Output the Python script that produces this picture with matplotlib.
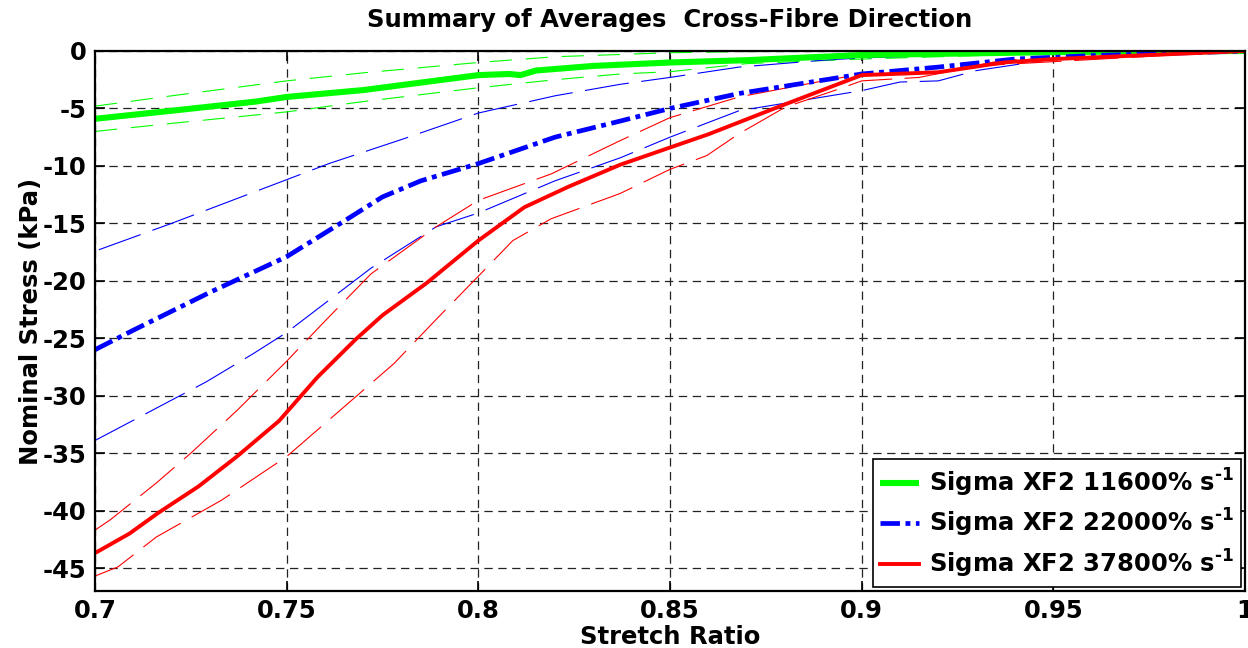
import matplotlib
matplotlib.use("Agg")
import matplotlib.pyplot as plt

plt.rcParams["font.family"] = ["DejaVu Sans"]
plt.rcParams["font.weight"] = "bold"
plt.rcParams["axes.unicode_minus"] = False
plt.rcParams["mathtext.fontset"] = "custom"
plt.rcParams["mathtext.rm"] = "DejaVu Sans:bold"
plt.rcParams["mathtext.bf"] = "DejaVu Sans:bold"
plt.rcParams["mathtext.it"] = "DejaVu Sans:bold"
plt.rcParams["lines.scale_dashes"] = False

# ---- data -------------------------------------------------------------
# Rate 11600 %/s
green_mean_x = [0.70, 0.72, 0.742, 0.75, 0.77, 0.80, 0.808, 0.811, 0.815, 0.83, 0.85, 0.87, 0.90, 0.93, 0.95, 0.97, 1.00]
green_mean_y = [-5.9, -5.2, -4.4, -4.0, -3.4, -2.1, -2.0, -2.1, -1.7, -1.3, -1.0, -0.8, -0.35, -0.2, -0.1, -0.05, 0.0]
green_hi_x = [0.70, 0.72, 0.75, 0.77, 0.80, 0.82, 0.85, 0.87, 0.90, 1.00]
green_hi_y = [-4.8, -3.9, -2.6, -1.9, -1.0, -0.5, -0.15, -0.05, 0.0, 0.0]
green_lo_x = [0.70, 0.72, 0.75, 0.77, 0.80, 0.82, 0.837, 0.85, 0.87, 0.90, 0.95, 1.00]
green_lo_y = [-7.0, -6.3, -5.3, -4.4, -3.2, -2.5, -2.0, -1.8, -1.1, -0.7, -0.2, 0.0]

# Rate 22000 %/s
blue_mean_x = [0.70, 0.71, 0.73, 0.75, 0.765, 0.775, 0.785, 0.80, 0.82, 0.837, 0.85, 0.868, 0.90, 0.92, 0.94, 0.96, 1.00]
blue_mean_y = [-26.0, -24.3, -21.0, -17.9, -14.8, -12.7, -11.3, -9.8, -7.5, -6.1, -5.0, -3.7, -2.0, -1.4, -0.7, -0.4, 0.0]
blue_hi_x = [0.701, 0.72, 0.75, 0.761, 0.78, 0.80, 0.82, 0.837, 0.85, 0.868, 0.89, 0.90, 0.94, 1.00]
blue_hi_y = [-17.3, -15.0, -11.2, -9.8, -7.7, -5.4, -3.9, -2.9, -2.3, -1.4, -0.8, -0.6, -0.2, 0.0]
blue_lo_x = [0.70, 0.729, 0.741, 0.75, 0.772, 0.789, 0.80, 0.82, 0.837, 0.85, 0.868, 0.90, 0.91, 0.92, 0.93, 0.95, 1.00]
blue_lo_y = [-33.9, -28.8, -26.4, -24.5, -18.9, -15.3, -14.1, -11.3, -9.3, -7.5, -5.2, -3.45, -2.7, -2.6, -1.7, -0.7, 0.0]

# Rate 37800 %/s
red_mean_x = [0.70, 0.709, 0.7165, 0.727, 0.737, 0.748, 0.758, 0.768, 0.775, 0.7865, 0.80, 0.812, 0.8236,
              0.837, 0.85, 0.86, 0.878, 0.90, 0.92, 0.937, 0.95, 1.00]
red_mean_y = [-43.7, -42.0, -40.2, -37.9, -35.3, -32.2, -28.4, -25.1, -23.0, -20.2, -16.5, -13.6, -11.8,
              -9.9, -8.4, -7.25, -4.9, -2.1, -1.85, -1.0, -0.7, 0.0]
red_hi_x = [0.70, 0.704, 0.716, 0.725, 0.737, 0.75, 0.76, 0.772, 0.789, 0.80, 0.819, 0.837, 0.85, 0.868,
            0.89, 0.90, 0.92, 0.937, 1.00]
red_hi_y = [-41.7, -40.8, -37.6, -35.0, -31.3, -27.0, -23.5, -19.4, -15.3, -13.0, -10.7, -7.8, -5.8, -4.0,
            -2.6, -2.0, -1.9, -0.8, 0.0]
red_lo_x = [0.70, 0.706, 0.716, 0.733, 0.75, 0.768, 0.778, 0.7886, 0.80, 0.809, 0.819, 0.837, 0.85, 0.8596,
            0.868, 0.88, 0.895, 0.90, 0.915, 0.93, 1.00]
red_lo_y = [-45.7, -44.9, -42.3, -39.1, -35.3, -30.1, -27.2, -23.5, -19.6, -16.5, -14.6, -12.4, -10.3, -9.1,
            -7.2, -4.9, -3.2, -2.6, -2.3, -1.3, 0.0]

legend_labels = [r"Sigma XF2 11600% s$^{\text{-1}}$",
                 r"Sigma XF2 22000% s$^{\text{-1}}$",
                 r"Sigma XF2 37800% s$^{\text{-1}}$"]

x_ticks = [0.7, 0.75, 0.8, 0.85, 0.9, 0.95, 1.0]
x_tick_labels = ["0.7", "0.75", "0.8", "0.85", "0.9", "0.95", "1"]
y_ticks = [-45, -40, -35, -30, -25, -20, -15, -10, -5, 0]

# ---- figure -----------------------------------------------------------
fig = plt.figure(figsize=(12.48, 6.48), dpi=100)
ax = fig.add_axes([95 / 1248, 57 / 648, 1150 / 1248, 540 / 648])

GREEN = "#00ff00"
BLUE = "#0000ff"
RED = "#ff0000"

thin_dash = (0, (32, 9))
green_dash = (0, (16, 10))

# envelope curves (thin dashed)
ax.plot(green_hi_x, green_hi_y, color=GREEN, lw=0.8, linestyle=green_dash)
ax.plot(green_lo_x, green_lo_y, color=GREEN, lw=0.8, linestyle=green_dash)
ax.plot(blue_hi_x, blue_hi_y, color=BLUE, lw=0.8, linestyle=thin_dash)
ax.plot(blue_lo_x, blue_lo_y, color=BLUE, lw=0.8, linestyle=thin_dash)
ax.plot(red_hi_x, red_hi_y, color=RED, lw=0.8, linestyle=thin_dash)
ax.plot(red_lo_x, red_lo_y, color=RED, lw=0.8, linestyle=thin_dash)

# mean curves
l1, = ax.plot(green_mean_x, green_mean_y, color=GREEN, lw=4.4, solid_capstyle="butt")
l2, = ax.plot(blue_mean_x, blue_mean_y, color=BLUE, lw=3.4, linestyle=(0, (14, 4, 3.5, 4)))
l3, = ax.plot(red_mean_x, red_mean_y, color=RED, lw=2.8)

ax.set_xlim(0.7, 1.0)
ax.set_ylim(-47, 0)
ax.set_xticks(x_ticks)
ax.set_xticklabels(x_tick_labels)
ax.set_yticks(y_ticks)

ax.grid(True, color="#222222", lw=0.9, linestyle=(0, (6, 4)))
ax.set_axisbelow(True)

for s in ax.spines.values():
    s.set_linewidth(1.6)
    s.set_color("black")

ax.tick_params(direction="in", length=7, width=1.2, top=True, right=True,
               labelsize=17.5, pad=6)

ax.set_title("Summary of Averages  Cross-Fibre Direction", fontsize=17.5,
             fontweight="bold", pad=17)
ax.set_xlabel("Stretch Ratio", fontsize=17.5, fontweight="bold", labelpad=1)
ax.set_ylabel("Nominal Stress (kPa)", fontsize=17.5, fontweight="bold", labelpad=0)

leg = ax.legend([l1, l2, l3], legend_labels, loc="lower right", fontsize=17.5,
                frameon=True, fancybox=False, framealpha=1, edgecolor="black",
                borderaxespad=0.15, handlelength=1.6, handletextpad=0.4,
                labelspacing=0.35, borderpad=0.3)
leg.get_frame().set_linewidth(1.2)
for t in leg.get_texts():
    t.set_fontweight("bold")

fig.savefig("out.png", dpi=100)
